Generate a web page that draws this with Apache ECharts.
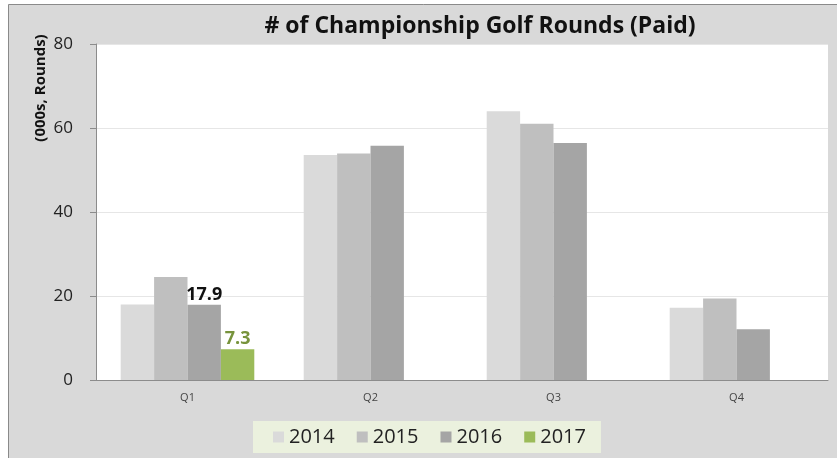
<!DOCTYPE html>
<html>
<head>
<meta charset="utf-8">
<script src="https://cdn.jsdelivr.net/npm/echarts@6/dist/echarts.min.js"></script>
<style>
  html, body { margin: 0; padding: 0; background: #fff; }
  #mainChart { width: 837px; height: 458px; }
</style>
</head>
<body>
<div id="mainChart"></div>
<script>
'use strict'
// quarters and yearly values (000s of rounds)
var quarters = ['Q1', 'Q2', 'Q3', 'Q4'];
var years = ['2014', '2015', '2016', '2017'];
var r2014 = [18.0, 53.6, 64.0, 17.2];
var r2015 = [24.5, 53.9, 61.0, 19.4];
var r2016 = [17.9, 55.8, 56.4, 12.1];
var r2017 = [7.3, null, null, null];
var barColors = ['#dadada', '#bfbfbf', '#a5a5a5', '#9bbb59'];

var myChart = echarts.init(document.getElementById('mainChart'));

function mkSeries(name, values, color, labelIdx, labelColor) {
    return {
        name: name,
        type: 'bar',
        barGap: 0,
        barCategoryGap: '27%',
        itemStyle: { color: color },
        data: values.map(function (v, i) {
            if (i === labelIdx) {
                return {
                    value: v,
                    label: {
                        show: true, position: 'top', distance: 1,
                        color: labelColor, fontWeight: 'bold', fontSize: 18,
                        fontFamily: 'Open Sans'
                    }
                };
            }
            return v;
        })
    };
}

myChart.setOption({
    animation: false,
    backgroundColor: '#fff',
    graphic: [
        {
            type: 'rect', z: -10,
            shape: { x: 8.5, y: 4.5, width: 840, height: 460 },
            style: { fill: '#d9d9d9', stroke: '#8a8a8a', lineWidth: 1 }
        },
        {
            type: 'text', x: 41, y: 88, rotation: Math.PI / 2,
            style: {
                text: '(000s, Rounds)', fill: '#111', fontSize: 15, fontWeight: 'bold',
                fontFamily: 'Open Sans', align: 'center', verticalAlign: 'middle'
            }
        }
    ],
    title: {
        text: '# of Championship Golf Rounds (Paid)',
        left: 475, textAlign: 'center', top: 10,
        textStyle: { fontSize: 23, fontWeight: 'bold', color: '#111', fontFamily: 'Open Sans' }
    },
    grid: {
        left: 96, right: 9, top: 44, bottom: 78,
        show: true, backgroundColor: '#fff', borderWidth: 0
    },
    legend: {
        data: years,
        left: 253, top: 421,
        backgroundColor: '#ebf1de',
        padding: [6, 15, 6, 20],
        itemWidth: 11, itemHeight: 11, itemGap: 22,
        icon: 'rect',
        textStyle: { fontSize: 20, color: '#222', fontFamily: 'Open Sans' }
    },
    xAxis: {
        type: 'category',
        data: quarters,
        axisLine: { lineStyle: { color: '#8c8c8c' } },
        axisTick: { length: 4, lineStyle: { color: '#8c8c8c' } },
        axisLabel: { fontSize: 11, color: '#444', margin: 12, fontFamily: 'Open Sans' }
    },
    yAxis: {
        type: 'value',
        min: 0, max: 80, interval: 20,
        axisLine: { show: true, lineStyle: { color: '#8c8c8c' } },
        axisTick: { show: true, length: 6, lineStyle: { color: '#8c8c8c' } },
        axisLabel: { fontSize: 17, color: '#222', margin: 23, fontFamily: 'Open Sans' },
        splitLine: { lineStyle: { color: '#e6e6e6' } }
    },
    series: [
        mkSeries('2014', r2014, barColors[0]),
        mkSeries('2015', r2015, barColors[1]),
        mkSeries('2016', r2016, barColors[2], 0, '#111'),
        mkSeries('2017', r2017, barColors[3], 0, '#77933c')
    ]
});
</script>
</body>
</html>
